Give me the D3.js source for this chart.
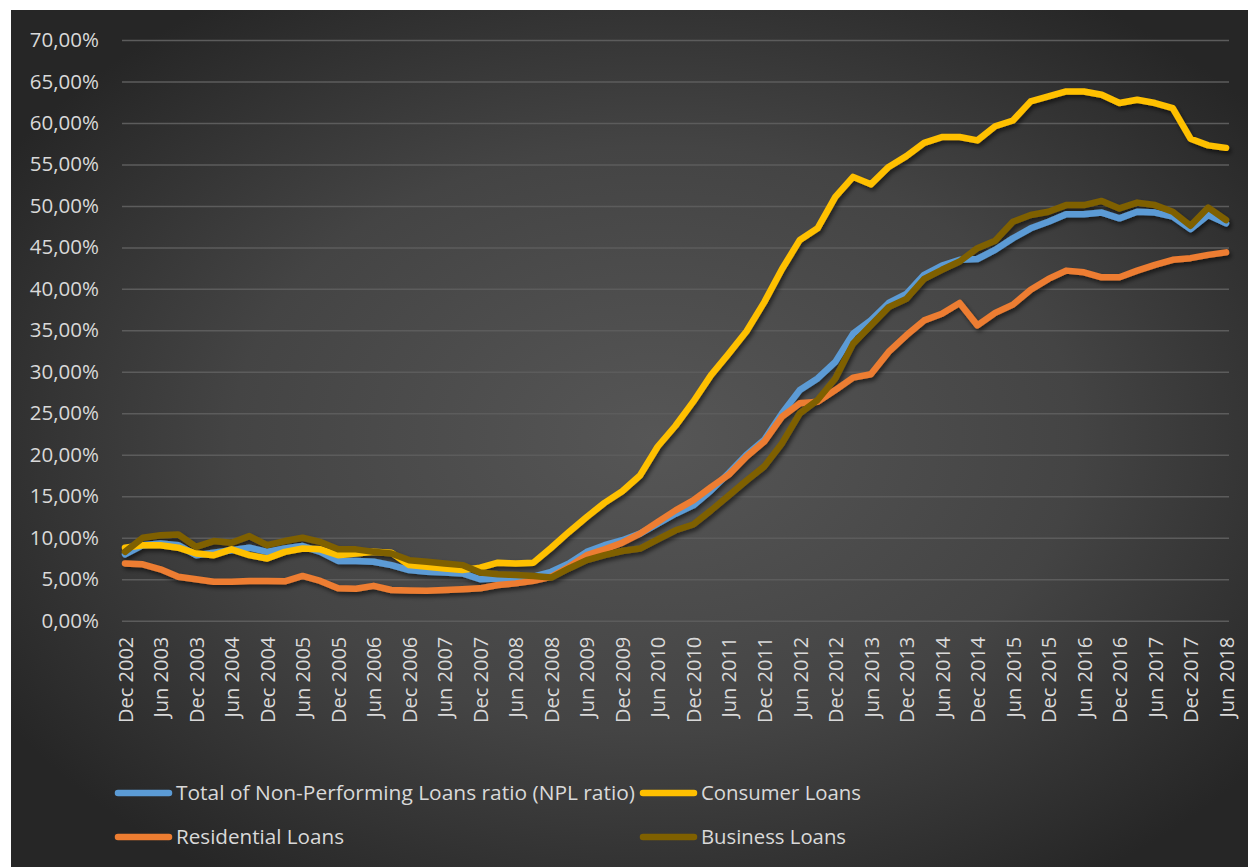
<!DOCTYPE html>
<html>
<head>
<meta charset="utf-8">
<script src="https://cdn.jsdelivr.net/npm/d3@7/dist/d3.min.js"></script>
<style>
  html, body { margin: 0; padding: 0; background: #ffffff; }
  svg { display: block; }
  text { font-family: "Open Sans", "DejaVu Sans", sans-serif; fill: #d9d9d9; }
</style>
</head>
<body>
<svg id="chart" width="1248" height="867"></svg>
<script>
// Quarter-end dates, Dec 2002 .. Jun 2018
const quarters = (() => {
  const out = [];
  const months = ["Mar", "Jun", "Sep", "Dec"];
  out.push("Dec 2002");
  for (let y = 2003; y <= 2018; y++) {
    for (const m of months) {
      out.push(m + " " + y);
      if (y === 2018 && m === "Jun") return out;
    }
  }
  return out;
})();

// Non-performing loan ratios, % of each loan book
const totalNPL = [8.0, 9.1, 9.3, 9.1, 7.9, 8.2, 8.5, 8.8, 8.3, 8.7, 9.0, 8.3, 7.2, 7.2, 7.1, 6.7,
  6.1, 5.9, 5.8, 5.7, 5.0, 5.1, 5.0, 5.3, 5.9, 6.9, 8.3, 9.1, 9.7, 10.5, 11.7, 12.9,
  13.9, 15.7, 17.8, 20.0, 21.8, 25.0, 27.8, 29.2, 31.2, 34.6, 36.2, 38.3, 39.4, 41.7, 42.8, 43.5,
  43.6, 44.7, 46.1, 47.3, 48.1, 49.0, 49.0, 49.2, 48.5, 49.3, 49.2, 48.7, 47.2, 48.9, 47.9];

const consumerLoans = [8.8, 9.1, 9.1, 8.8, 8.1, 7.9, 8.6, 7.9, 7.5, 8.3, 8.7, 8.6, 7.9, 8.1, 8.3, 8.2,
  6.7, 6.5, 6.3, 6.1, 6.4, 7.0, 6.9, 7.0, 8.8, 10.7, 12.5, 14.2, 15.6, 17.5, 21.0, 23.5,
  26.4, 29.6, 32.2, 34.9, 38.4, 42.4, 45.9, 47.3, 51.1, 53.5, 52.6, 54.7, 56.0, 57.6, 58.3, 58.3,
  57.9, 59.6, 60.3, 62.6, 63.2, 63.8, 63.8, 63.4, 62.4, 62.8, 62.4, 61.8, 58.1, 57.3, 57.0];

const residentialLoans = [6.9, 6.8, 6.2, 5.3, 5.0, 4.7, 4.7, 4.8, 4.8, 4.75, 5.4, 4.8, 3.9, 3.85, 4.2, 3.7,
  3.65, 3.6, 3.7, 3.8, 3.9, 4.3, 4.5, 4.8, 5.3, 6.5, 7.9, 8.6, 9.4, 10.5, 11.9, 13.3,
  14.5, 16.1, 17.6, 19.8, 21.6, 24.6, 26.2, 26.4, 27.8, 29.3, 29.7, 32.4, 34.4, 36.2, 37.0, 38.3,
  35.6, 37.1, 38.1, 39.9, 41.2, 42.2, 42.0, 41.4, 41.4, 42.2, 42.9, 43.5, 43.7, 44.1, 44.4];

const businessLoans = [8.3, 10.0, 10.3, 10.4, 8.9, 9.6, 9.4, 10.2, 9.1, 9.6, 10.0, 9.5, 8.6, 8.6, 8.3, 8.1,
  7.3, 7.1, 6.9, 6.7, 5.8, 5.6, 5.5, 5.4, 5.2, 6.3, 7.3, 7.9, 8.4, 8.7, 9.8, 10.9,
  11.6, 13.3, 15.1, 16.9, 18.6, 21.4, 25.0, 26.6, 29.2, 33.4, 35.6, 37.8, 38.8, 41.2, 42.3, 43.3,
  44.9, 45.8, 48.1, 48.9, 49.3, 50.1, 50.1, 50.6, 49.7, 50.4, 50.1, 49.3, 47.6, 49.8, 48.3];

const seriesNames = ["Total of Non-Performing Loans ratio (NPL ratio)", "Consumer Loans", "Residential Loans", "Business Loans"];
const seriesColors = ["#5b9bd5", "#ffc000", "#ed7d31", "#7f6000"];
const seriesValues = [totalNPL, consumerLoans, residentialLoans, businessLoans];

const yTicks = [0, 5, 10, 15, 20, 25, 30, 35, 40, 45, 50, 55, 60, 65, 70];
// Every other quarter gets a label (June and December)
const xTickLabels = quarters.filter(q => q.startsWith("Jun") || q.startsWith("Dec"));

const svg = d3.select("#chart");
const defs = svg.append("defs");

const bg = defs.append("radialGradient")
  .attr("id", "bgGrad")
  .attr("cx", "52%").attr("cy", "50%").attr("r", "62%");
bg.append("stop").attr("offset", "0%").attr("stop-color", "#565656");
bg.append("stop").attr("offset", "55%").attr("stop-color", "#444444");
bg.append("stop").attr("offset", "100%").attr("stop-color", "#262626");

const shadow = defs.append("filter")
  .attr("id", "lineShadow")
  .attr("x", "-5%").attr("y", "-5%").attr("width", "110%").attr("height", "120%");
shadow.append("feDropShadow")
  .attr("dx", 2).attr("dy", 3).attr("stdDeviation", 2)
  .attr("flood-color", "#000").attr("flood-opacity", 0.55);

svg.append("rect")
  .attr("x", 11).attr("y", 10).attr("width", 1237).attr("height", 857)
  .attr("fill", "url(#bgGrad)");

const plot = { left: 122, right: 1229, top: 40, bottom: 620.7 };

const x = d3.scalePoint()
  .domain(quarters)
  .range([plot.left + 3, plot.right - 3]);

const y = d3.scaleLinear()
  .domain([0, 70])
  .range([plot.bottom, plot.top]);

const decimalComma = d3.formatLocale({ decimal: ",", thousands: ".", grouping: [3], currency: ["", ""] });
const fmt = decimalComma.format(".2f");

// Horizontal gridlines + y labels
const yAxis = d3.axisLeft(y)
  .tickValues(yTicks)
  .tickSize(-(plot.right - plot.left))
  .tickPadding(23)
  .tickFormat(d => fmt(d) + "%");

const yg = svg.append("g")
  .attr("transform", `translate(${plot.left},0)`)
  .call(yAxis);
yg.select(".domain").remove();
yg.selectAll(".tick line")
  .attr("stroke", "#5c5c5c")
  .attr("stroke-width", 1.5);
yg.selectAll(".tick text")
  .attr("font-size", 20.5)
  .attr("fill", "#d9d9d9")
  .style("font-family", "'Open Sans', sans-serif");

// Rotated category labels
const xAxis = d3.axisBottom(x)
  .tickValues(xTickLabels)
  .tickSize(0)
  .tickPadding(0);

const xg = svg.append("g")
  .attr("transform", `translate(0,${plot.bottom})`)
  .call(xAxis);
xg.select(".domain").remove();
xg.selectAll(".tick text")
  .attr("font-size", 20)
  .attr("fill", "#d9d9d9")
  .style("font-family", "'Open Sans', sans-serif")
  .attr("text-anchor", "end")
  .attr("transform", "rotate(-90)")
  .attr("x", -16)
  .attr("y", 0)
  .attr("dy", "0.36em");

// Series lines
const line = d3.line()
  .x((d, i) => x(quarters[i]))
  .y(d => y(d));

const lines = svg.append("g").attr("filter", "url(#lineShadow)");
seriesValues.forEach((vals, k) => {
  lines.append("path")
    .datum(vals)
    .attr("d", line)
    .attr("fill", "none")
    .attr("stroke", seriesColors[k])
    .attr("stroke-width", 6.5)
    .attr("stroke-linejoin", "round")
    .attr("stroke-linecap", "round");
});

// Legend: two columns, two rows
const legendPos = [
  { x: 115, y: 793 }, { x: 640, y: 793 },
  { x: 115, y: 837 }, { x: 640, y: 837 }
];
const legendTextWidth = [459, 160, 168, 145];
const legend = svg.append("g");
seriesNames.forEach((name, k) => {
  const p = legendPos[k];
  legend.append("line")
    .attr("x1", p.x + 3).attr("x2", p.x + 54)
    .attr("y1", p.y).attr("y2", p.y)
    .attr("stroke", seriesColors[k])
    .attr("stroke-width", 6.5)
    .attr("stroke-linecap", "round");
  legend.append("text")
    .attr("x", p.x + 61)
    .attr("y", p.y)
    .attr("dy", "0.35em")
    .attr("font-size", 20)
    .attr("textLength", legendTextWidth[k])
    .attr("lengthAdjust", "spacingAndGlyphs")
    .text(name);
});
</script>
</body>
</html>
